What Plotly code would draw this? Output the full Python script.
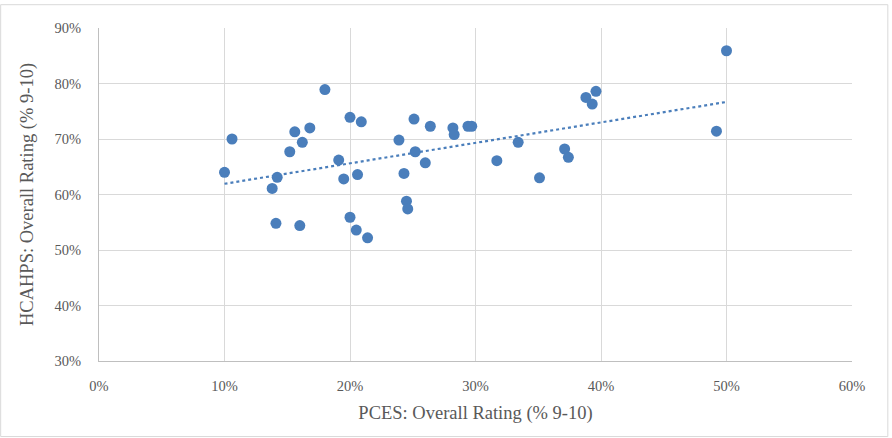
import numpy as np
import plotly.graph_objects as go

# PCES overall rating (% 9-10) and HCAHPS overall rating (% 9-10), in percent
pces = [18.0, 10.6, 10.0, 15.6, 16.8, 16.2, 15.2, 14.2, 13.8, 14.1, 16.0,
        20.0, 20.9, 19.1, 19.5, 20.6, 20.0, 20.5, 21.4, 23.9, 25.1, 26.4,
        25.2, 26.0, 24.3, 24.5, 24.6, 28.2, 28.3, 29.4, 29.7, 31.7,
        50.0, 39.6, 38.8, 39.3, 33.4, 35.1, 37.1, 37.4, 49.2]
hcahps = [78.9, 70.0, 64.0, 71.3, 72.0, 69.4, 67.7, 63.1, 61.1, 54.8, 54.4,
          73.9, 73.1, 66.2, 62.8, 63.6, 55.9, 53.6, 52.2, 69.8, 73.6, 72.3,
          67.7, 65.7, 63.8, 58.8, 57.4, 72.0, 70.8, 72.3, 72.3, 66.1,
          85.9, 78.6, 77.5, 76.3, 69.4, 63.0, 68.2, 66.7, 71.4]

x_ticks = [0, 10, 20, 30, 40, 50, 60]
x_tick_labels = ["0%", "10%", "20%", "30%", "40%", "50%", "60%"]
y_ticks = [30, 40, 50, 60, 70, 80, 90]
y_tick_labels = ["30%", "40%", "50%", "60%", "70%", "80%", "90%"]

blue = "#4a7ebb"
grey_text = "#595959"
font_family = "Liberation Serif"

slope, intercept = np.polyfit(pces, hcahps, 1)
tx = [min(pces), max(pces)]
ty = [slope * v + intercept for v in tx]

fig = go.Figure()
fig.add_trace(go.Scatter(
    x=tx, y=ty, mode="lines",
    line=dict(color=blue, width=2.2, dash="dot"),
    hoverinfo="skip", showlegend=False,
))
fig.add_trace(go.Scatter(
    x=pces, y=hcahps, mode="markers",
    marker=dict(color=blue, size=11, line=dict(width=0)),
    showlegend=False,
))

fig.update_layout(
    width=892, height=438,
    margin=dict(l=99, r=40, t=28, b=77),
    paper_bgcolor="white", plot_bgcolor="white",
    font=dict(family=font_family, color=grey_text, size=14),
    xaxis=dict(
        range=[0, 60], tickmode="array", tickvals=x_ticks, ticktext=x_tick_labels,
        showgrid=True, gridcolor="#d9d9d9", gridwidth=1,
        showline=True, linecolor="#bfbfbf", linewidth=1,
        zeroline=False, ticks="", ticklabelstandoff=12,
        tickfont=dict(size=14.5, color=grey_text, family=font_family),
        title=dict(text="PCES: Overall Rating (% 9-10)", standoff=12,
                   font=dict(size=18.5, color=grey_text, family=font_family)),
    ),
    yaxis=dict(
        range=[30, 90], tickmode="array", tickvals=y_ticks, ticktext=y_tick_labels,
        showgrid=True, gridcolor="#d9d9d9", gridwidth=1,
        showline=True, linecolor="#bfbfbf", linewidth=1,
        zeroline=False, ticks="", ticklabelstandoff=14,
        tickfont=dict(size=14.5, color=grey_text, family=font_family),
        title=dict(text="HCAHPS: Overall Rating (% 9-10)", standoff=16,
                   font=dict(size=18.5, color=grey_text, family=font_family)),
    ),
    shapes=[dict(
        type="rect", xref="paper", yref="paper",
        x0=-0.1306, x1=1.0476, y0=-0.2269, y1=1.070,
        line=dict(color="#d9d9d9", width=1), fillcolor="rgba(0,0,0,0)",
        layer="below",
    )],
)

fig.write_html("out.html")
